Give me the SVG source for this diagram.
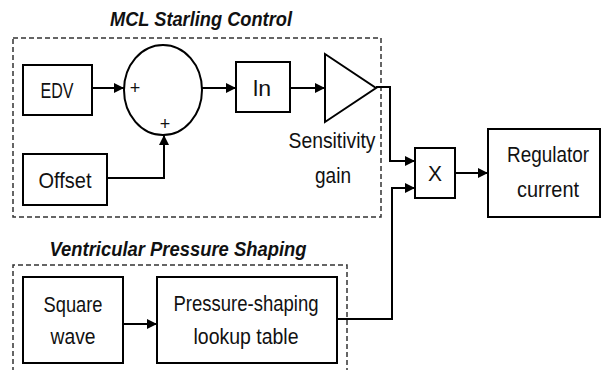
<svg xmlns="http://www.w3.org/2000/svg" width="602" height="370" viewBox="0 0 602 370">
<defs>
<marker id="ah" viewBox="0 0 10 10" refX="10" refY="5" markerWidth="11" markerHeight="10" markerUnits="userSpaceOnUse" orient="auto">
<path d="M0,0 L10,5 L0,10 Z" fill="#000"/>
</marker>
</defs>
<style>
.box{fill:#fff;stroke:#000;stroke-width:2}
.dash{fill:none;stroke:#333;stroke-width:1.5;stroke-dasharray:5,3}
.wire{fill:none;stroke:#000;stroke-width:2}
.t{font-family:"Liberation Sans",Arial,sans-serif;font-size:22px;fill:#111;text-anchor:middle}
.title{font-family:"Liberation Sans",Arial,sans-serif;font-size:20px;font-weight:bold;font-style:italic;fill:#111;text-anchor:middle}
.plus{font-family:"Liberation Sans",Arial,sans-serif;font-size:18px;fill:#111;text-anchor:middle}
</style>
<rect width="602" height="370" fill="#fff"/>
<g id="group-mcl">
<rect class="dash" x="13" y="38" width="368" height="179"/>
<text class="title" x="201" y="26" textLength="182" lengthAdjust="spacingAndGlyphs">MCL Starling Control</text>
</g>
<g id="group-vps">
<path class="dash" d="M13,372 V265 H347 V372"/>
<text class="title" x="178" y="256" textLength="257" lengthAdjust="spacingAndGlyphs">Ventricular Pressure Shaping</text>
</g>
<g id="connectors">
<path class="wire" d="M92,88 H124" marker-end="url(#ah)"/>
<path class="wire" d="M107,178 H164 V135" marker-end="url(#ah)"/>
<path class="wire" d="M202,88 H236" marker-end="url(#ah)"/>
<path class="wire" d="M290,88 H325" marker-end="url(#ah)"/>
<path class="wire" d="M376,87 H390 V161 H415" marker-end="url(#ah)"/>
<path class="wire" d="M337,319 H392 V188 H415" marker-end="url(#ah)"/>
<path class="wire" d="M455,173 H488" marker-end="url(#ah)"/>
<path class="wire" d="M123,324 H157" marker-end="url(#ah)"/>
</g>
<g id="edv">
<rect class="box" x="23" y="65" width="69" height="50"/>
<text class="t" x="57" y="98" textLength="33" lengthAdjust="spacingAndGlyphs">EDV</text>
</g>
<g id="sum">
<ellipse class="box" cx="163" cy="90" rx="39" ry="45"/>
<text class="plus" x="135" y="94">+</text>
<text class="plus" x="165" y="130">+</text>
</g>
<g id="offset">
<rect class="box" x="23" y="154" width="84" height="51"/>
<text class="t" x="65" y="188" textLength="53" lengthAdjust="spacingAndGlyphs">Offset</text>
</g>
<g id="ln">
<rect class="box" x="236" y="62" width="54" height="50"/>
<text class="t" x="262" y="96" textLength="18" lengthAdjust="spacingAndGlyphs">ln</text>
</g>
<g id="gain">
<path class="box" d="M325,54 L376,88 L325,122 Z"/>
<text class="t" x="332" y="148" textLength="87" lengthAdjust="spacingAndGlyphs">Sensitivity</text>
<text class="t" x="333" y="183" textLength="36" lengthAdjust="spacingAndGlyphs">gain</text>
</g>
<g id="mult">
<rect class="box" x="415" y="148" width="40" height="50"/>
<text class="t" x="435" y="181" textLength="14" lengthAdjust="spacingAndGlyphs">X</text>
</g>
<g id="regulator">
<rect class="box" x="488" y="129" width="112" height="88"/>
<text class="t" x="548" y="162" textLength="82" lengthAdjust="spacingAndGlyphs">Regulator</text>
<text class="t" x="548" y="197" textLength="62" lengthAdjust="spacingAndGlyphs">current</text>
</g>
<g id="square">
<rect class="box" x="23" y="277" width="100" height="86"/>
<text class="t" x="73" y="312" textLength="59" lengthAdjust="spacingAndGlyphs">Square</text>
<text class="t" x="73" y="344" textLength="45" lengthAdjust="spacingAndGlyphs">wave</text>
</g>
<g id="lookup">
<rect class="box" x="157" y="277" width="180" height="86"/>
<text class="t" x="246" y="311" textLength="145" lengthAdjust="spacingAndGlyphs">Pressure-shaping</text>
<text class="t" x="246" y="344" textLength="105" lengthAdjust="spacingAndGlyphs">lookup table</text>
</g>
</svg>
